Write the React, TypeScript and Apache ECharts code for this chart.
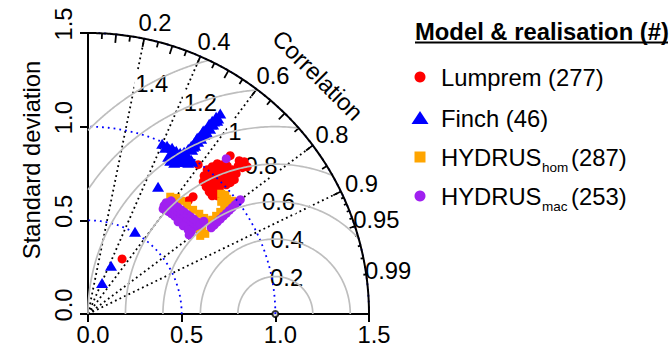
import React, { useEffect, useRef } from "react";
import * as echarts from "echarts";

const FONT = "'Liberation Sans', Arial, Helvetica, sans-serif";
const FS = 23.8;
const MAX_SD = 1.5;
const REF_SD = 1.0;

// axis ticks
const axisTicks = [0, 0.5, 1.0, 1.5];
const axisTickLabels = ["0.0", "0.5", "1.0", "1.5"];

// correlation axis
const corrLabelValues = [0.2, 0.4, 0.6, 0.8, 0.9, 0.95, 0.99];
const corrLineValues = [0.2, 0.4, 0.6, 0.8, 0.9];
const bigTickCorr = [0.1, 0.2, 0.3, 0.4, 0.5, 0.6, 0.7, 0.8, 0.9];
const medTickCorr = [0.05, 0.15, 0.25, 0.35, 0.45, 0.55, 0.65, 0.75, 0.85, 0.95];
const smallTickCorr = [0.91, 0.92, 0.93, 0.94, 0.95, 0.96, 0.97, 0.98, 0.99];

// centred RMS difference contours
const rmsdLevels = [0.2, 0.4, 0.6, 0.8, 1, 1.2, 1.4];
const rmsdLabelIndex = [45, 49, 53, 57, 61, 65, 70];

// standard deviation arcs
const sdArcLevels = [0.5, 1.0, 1.5];

// legend
const legendTitle = "Model & realisation (#)";
const legendNames = ["Lumprem", "Finch", "HYDRUS", "HYDRUS"];
const legendSubs = ["", "", "hom", "mac"];
const legendCounts = ["(277)", "(46)", "(287)", "(253)"];
const seriesColors = ["#FF0000", "#0000FF", "#FFA500", "#A020F0"];

// points: [sd * corr, sd * sqrt(1 - corr^2)]
const lumprem = [
  [0.636, 0.77], [0.663, 0.786], [0.69, 0.802], [0.717, 0.797], [0.743, 0.791], [0.77, 0.77], [0.791, 0.749], [0.781, 0.717], [0.759, 0.701],
  [0.62, 0.738], [0.647, 0.749], [0.674, 0.765], [0.701, 0.77], [0.727, 0.765], [0.754, 0.749],
  [0.615, 0.706], [0.642, 0.717], [0.668, 0.733], [0.695, 0.738], [0.722, 0.733], [0.749, 0.722],
  [0.631, 0.679], [0.658, 0.684], [0.684, 0.701], [0.711, 0.701], [0.738, 0.69],
  [0.647, 0.652], [0.674, 0.658], [0.701, 0.668], [0.663, 0.631], [0.69, 0.631],
  [0.807, 0.818], [0.834, 0.813], [0.85, 0.786], [0.824, 0.781], [0.802, 0.791],
  [0.759, 0.845], [0.588, 0.797], [0.561, 0.626], [0.535, 0.604], [0.182, 0.294],
];

const finch = [
  [0.706, 1.07], [0.695, 1.043], [0.674, 1.027], [0.658, 1.011], [0.642, 0.995], [0.626, 0.984], [0.61, 0.968], [0.594, 0.947],
  [0.578, 0.93], [0.567, 0.914], [0.551, 0.898], [0.535, 0.882], [0.684, 1.053], [0.631, 0.973], [0.599, 0.952], [0.561, 0.893],
  [0.668, 1.011], [0.652, 0.989], [0.636, 0.968], [0.62, 0.957], [0.604, 0.936], [0.588, 0.92], [0.572, 0.898], [0.556, 0.877],
  [0.69, 1.032], [0.663, 1.032], [0.647, 1.016], [0.615, 0.979], [0.583, 0.941],
  [0.396, 0.909], [0.422, 0.898], [0.449, 0.888], [0.471, 0.872], [0.492, 0.861], [0.513, 0.866], [0.529, 0.85], [0.412, 0.888],
  [0.444, 0.856], [0.465, 0.84], [0.487, 0.834], [0.508, 0.834], [0.529, 0.829], [0.551, 0.824], [0.519, 0.813],
  [0.439, 0.818], [0.46, 0.807], [0.481, 0.813], [0.503, 0.813], [0.535, 0.807], [0.556, 0.813], [0.428, 0.84],
  [0.374, 0.679], [0.251, 0.439], [0.123, 0.257], [0.075, 0.166],
];

const hydrusHom = [
  [0.439, 0.626], [0.471, 0.62], [0.497, 0.604], [0.529, 0.578], [0.561, 0.556], [0.594, 0.535], [0.62, 0.513], [0.642, 0.492],
  [0.61, 0.449], [0.626, 0.428], [0.599, 0.417],
  [0.663, 0.503], [0.684, 0.524], [0.706, 0.545], [0.727, 0.567], [0.749, 0.588], [0.77, 0.604],
  [0.711, 0.642], [0.733, 0.636], [0.722, 0.615], [0.743, 0.615], [0.711, 0.599],
  [0.412, 0.572], [0.465, 0.535], [0.519, 0.492], [0.572, 0.46],
];

const hydrusMac = [
  [0.413, 0.559], [0.43, 0.546], [0.447, 0.534], [0.464, 0.521], [0.481, 0.508], [0.498, 0.495], [0.516, 0.483], [0.533, 0.47], [0.55, 0.457],
  [0.429, 0.567], [0.446, 0.554], [0.463, 0.541], [0.481, 0.529], [0.498, 0.516], [0.515, 0.503], [0.532, 0.49], [0.549, 0.478], [0.566, 0.465],
  [0.445, 0.575], [0.463, 0.562], [0.48, 0.549], [0.497, 0.536], [0.514, 0.524], [0.531, 0.511], [0.549, 0.498], [0.566, 0.485], [0.583, 0.473],
  [0.462, 0.582], [0.479, 0.57], [0.496, 0.557], [0.513, 0.544], [0.531, 0.531], [0.548, 0.519], [0.565, 0.506], [0.582, 0.493], [0.599, 0.48],
  [0.406, 0.578], [0.401, 0.561], [0.417, 0.594], [0.444, 0.604],
  [0.481, 0.492], [0.508, 0.471], [0.535, 0.449], [0.551, 0.439], [0.54, 0.422], [0.618, 0.495],
  [0.658, 0.46], [0.674, 0.475], [0.69, 0.491], [0.706, 0.506], [0.722, 0.522], [0.738, 0.537], [0.754, 0.553], [0.77, 0.568],
  [0.786, 0.584], [0.802, 0.599], [0.813, 0.61],
  [0.738, 0.829],
];

const refPoint = [[REF_SD, 0]];

function arcPoints(cx: number, r: number, a0: number, a1: number, n = 160) {
  const pts: number[][] = [];
  for (let i = 0; i <= n; i++) {
    const a = a0 + ((a1 - a0) * i) / n;
    pts.push([cx + r * Math.cos(a), r * Math.sin(a)]);
  }
  return pts;
}

function rmsdRange(r: number) {
  let a0 = 0;
  if (REF_SD + r > MAX_SD) {
    const x = (MAX_SD * MAX_SD - r * r + REF_SD * REF_SD) / (2 * REF_SD);
    const y = Math.sqrt(Math.max(0, MAX_SD * MAX_SD - x * x));
    a0 = Math.atan2(y, x - REF_SD);
  }
  let a1 = Math.PI;
  if (r > REF_SD) a1 = Math.acos(-REF_SD / r);
  return [a0, a1];
}

export default function App() {
  const ref = useRef<HTMLDivElement>(null);
  useEffect(() => {
    if (!ref.current) return;
    const chart = echarts.init(ref.current, null, { renderer: "svg" });

    const series: any[] = [];

    // radial correlation lines (dotted)
    series.push({
      type: "custom",
      silent: true,
      data: corrLineValues.map((c) => [c, 0]),
      renderItem: (params: any, api: any) => {
        const c = api.value(0);
        const p0 = api.coord([0, 0]);
        const p1 = api.coord([MAX_SD * c, MAX_SD * Math.sqrt(1 - c * c)]);
        return {
          type: "line",
          shape: { x1: p0[0], y1: p0[1], x2: p1[0], y2: p1[1] },
          style: { stroke: "#000", lineWidth: 1.8, lineDash: [1.8, 3.2] },
        };
      },
    });

    // sd arcs (blue dotted)
    sdArcLevels.forEach((r) => {
      series.push({
        type: "line",
        silent: true,
        clip: false,
        showSymbol: false,
        symbol: "none",
        data: arcPoints(0, r, 0, Math.PI / 2),
        lineStyle: { color: "#0000FF", width: 1.8, type: [1.8, 4] },
      });
    });

    // RMSD circles
    rmsdLevels.forEach((r) => {
      const [a0, a1] = rmsdRange(r);
      series.push({
        type: "line",
        silent: true,
        clip: false,
        showSymbol: false,
        symbol: "none",
        data: arcPoints(REF_SD, r, a0, a1),
        lineStyle: { color: "#BEBEBE", width: 1.7 },
      });
    });

    // RMSD labels (boxed)
    series.push({
      type: "custom",
      silent: true,
      data: rmsdLevels.map((r, i) => {
        const a = (rmsdLabelIndex[i] - 1) * 0.03;
        return [REF_SD + r * Math.cos(a), r * Math.sin(a)];
      }),
      renderItem: (params: any, api: any) => {
        const p = api.coord([api.value(0), api.value(1)]);
        return {
          type: "text",
          x: p[0] + 2,
          y: p[1],
          style: {
            text: String(rmsdLevels[params.dataIndex]),
            fill: "#000",
            fontSize: FS,
            fontFamily: FONT,
            align: "center",
            verticalAlign: "middle",
            backgroundColor: "#fff",
            padding: [0, 1],
          },
        };
      },
    });

    // outer arc
    series.push({
      type: "line",
      silent: true,
      clip: false,
      showSymbol: false,
      symbol: "none",
      data: arcPoints(0, MAX_SD, 0, Math.PI / 2, 240),
      lineStyle: { color: "#000", width: 2 },
    });

    // ticks on outer arc
    const ticks: number[][] = [
      ...bigTickCorr.map((c) => [c, 0.03]),
      ...medTickCorr.map((c) => [c, 0.02]),
      ...smallTickCorr.map((c) => [c, 0.01]),
    ];
    series.push({
      type: "custom",
      silent: true,
      data: ticks,
      renderItem: (params: any, api: any) => {
        const c = api.value(0);
        const L = api.value(1);
        const s = Math.sqrt(1 - c * c);
        const p0 = api.coord([MAX_SD * c, MAX_SD * s]);
        const p1 = api.coord([(1 - L) * MAX_SD * c, (1 - L) * MAX_SD * s]);
        return {
          type: "line",
          shape: { x1: p0[0], y1: p0[1], x2: p1[0], y2: p1[1] },
          style: { stroke: "#000", lineWidth: 1.8 },
        };
      },
    });

    // correlation labels
    series.push({
      type: "custom",
      silent: true,
      data: corrLabelValues.map((c) => [1.05 * MAX_SD * c, 1.05 * MAX_SD * Math.sqrt(1 - c * c)]),
      renderItem: (params: any, api: any) => {
        const p = api.coord([api.value(0), api.value(1)]);
        return {
          type: "text",
          x: p[0] + 8,
          y: p[1] - 2,
          style: {
            text: String(corrLabelValues[params.dataIndex]),
            fill: "#000",
            fontSize: FS,
            fontFamily: FONT,
            align: "center",
            verticalAlign: "middle",
          },
        };
      },
    });

    // reference point
    series.push({
      type: "scatter",
      silent: true,
      data: refPoint,
      symbol: "emptyCircle",
      symbolSize: 6,
      itemStyle: { color: "#000", borderColor: "#000", borderWidth: 1.5 },
    });

    const dataSets = [lumprem, finch, hydrusHom, hydrusMac];
    const symbols = ["circle", "triangle", "rect", "circle"];
    const sizes: any[] = [9, [12, 10], 8, 9];
    dataSets.forEach((d, i) => {
      series.push({
        type: "scatter",
        name: legendNames[i] + legendSubs[i],
        data: d,
        symbol: symbols[i],
        symbolSize: sizes[i],
        itemStyle: { color: seriesColors[i], opacity: 1 },
      });
    });

    const labelFmt = (v: number) => {
      const i = axisTicks.findIndex((t) => Math.abs(t - v) < 1e-6);
      return i >= 0 ? axisTickLabels[i] : "";
    };

    const axisCommon = {
      type: "value",
      min: 0,
      max: MAX_SD,
      interval: 0.5,
      splitLine: { show: false },
      axisLine: { show: true, onZero: false, lineStyle: { color: "#000", width: 2 } },
      axisTick: { show: true, length: 8, lineStyle: { color: "#000", width: 2 } },
    };

    const legendRowY = [77, 118, 157, 196];
    const graphic: any[] = [
      {
        type: "text",
        x: 31,
        y: 160,
        rotation: Math.PI / 2,
        style: { text: "Standard deviation", fill: "#000", fontSize: FS, fontFamily: FONT, align: "center", verticalAlign: "middle" },
      },
      {
        type: "text",
        x: 318,
        y: 75,
        rotation: -Math.PI / 4,
        style: { text: "Correlation", fill: "#000", fontSize: FS, fontFamily: FONT, align: "center", verticalAlign: "middle" },
      },
      {
        type: "text",
        x: 415,
        y: 31,
        style: { text: legendTitle, fill: "#000", fontSize: FS, fontWeight: "bold", fontFamily: FONT, align: "left", verticalAlign: "middle" },
      },
      { type: "line", shape: { x1: 415, y1: 42.5, x2: 668, y2: 42.5 }, style: { stroke: "#000", lineWidth: 2 } },
      { type: "circle", shape: { cx: 420, cy: legendRowY[0], r: 5.5 }, style: { fill: seriesColors[0] } },
      {
        type: "polygon",
        shape: { points: [[411.5, legendRowY[1] + 6], [428.5, legendRowY[1] + 6], [420, legendRowY[1] - 7]] },
        style: { fill: seriesColors[1] },
      },
      { type: "rect", shape: { x: 414.5, y: legendRowY[2] - 5.5, width: 11, height: 11 }, style: { fill: seriesColors[2] } },
      { type: "circle", shape: { cx: 420, cy: legendRowY[3], r: 5.5 }, style: { fill: seriesColors[3] } },
    ];
    legendNames.forEach((n, i) => {
      const y = legendRowY[i];
      if (!legendSubs[i]) {
        graphic.push({
          type: "text",
          x: 441,
          y,
          style: { text: n + " " + legendCounts[i], fill: "#000", fontSize: FS, fontFamily: FONT, align: "left", verticalAlign: "middle" },
        });
      } else {
        graphic.push({
          type: "text",
          x: 441,
          y,
          style: { text: n, fill: "#000", fontSize: FS, fontFamily: FONT, align: "left", verticalAlign: "middle" },
        });
        graphic.push({
          type: "text",
          x: 542,
          y: y + 10,
          style: { text: legendSubs[i], fill: "#000", fontSize: 13.5, fontFamily: FONT, align: "left", verticalAlign: "middle" },
        });
        graphic.push({
          type: "text",
          x: 571,
          y,
          style: { text: legendCounts[i], fill: "#000", fontSize: FS, fontFamily: FONT, align: "left", verticalAlign: "middle" },
        });
      }
    });

    chart.setOption({
      animation: false,
      backgroundColor: "#fff",
      grid: { left: 88, top: 33, width: 281, height: 281, containLabel: false, outerBoundsMode: "none" },
      xAxis: {
        ...axisCommon,
        axisLabel: {
          formatter: labelFmt,
          color: "#000",
          fontSize: FS,
          fontFamily: FONT,
          margin: 8,
          padding: [0, 0, 0, 10],
          showMinLabel: true,
          showMaxLabel: true,
        },
      },
      yAxis: {
        ...axisCommon,
        axisLabel: {
          formatter: labelFmt,
          color: "#000",
          fontSize: FS,
          fontFamily: FONT,
          rotate: 90,
          margin: 13,
          padding: [0, 0, 0, 18],
          showMinLabel: true,
          showMaxLabel: true,
        },
      },
      series,
      graphic,
    });
    return () => chart.dispose();
  }, []);
  return <div ref={ref} style={{ position: "fixed", left: 0, top: 0, width: 670, height: 347 }} />;
}
